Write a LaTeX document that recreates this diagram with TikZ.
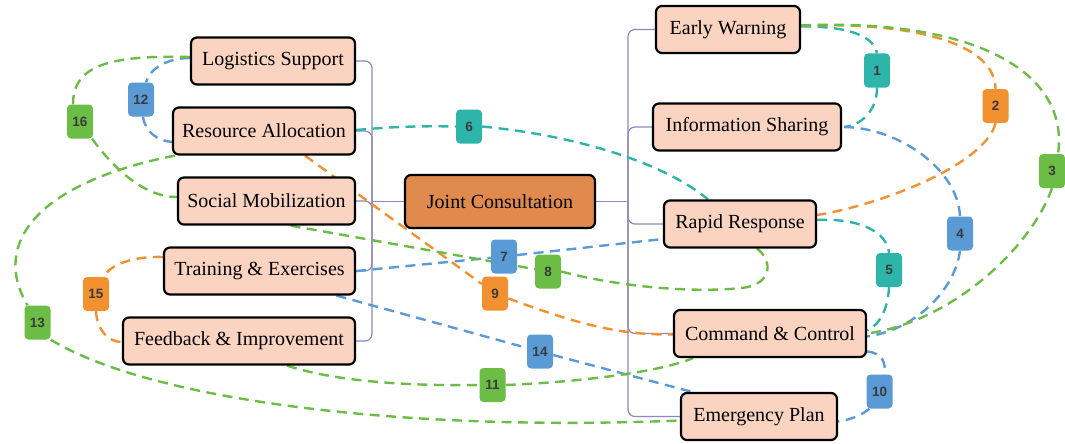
\documentclass[tikz,border=0pt]{standalone}
\usepackage{fontspec}
\setmainfont{Liberation Serif}
\newfontfamily\labfont{Liberation Sans}
\usetikzlibrary{backgrounds}

\definecolor{peach}{HTML}{FAD4C0}
\definecolor{hubfill}{HTML}{E08A4E}
\definecolor{treec}{HTML}{8C87C0}
\definecolor{tealc}{HTML}{2DB5AA}
\definecolor{orangec}{HTML}{F2912F}
\definecolor{greenc}{HTML}{6CBD45}
\definecolor{bluec}{HTML}{5B9BD5}
\definecolor{labtext}{HTML}{3A3A3A}

\tikzset{
  box/.style={draw=black, line width=2.2pt, rounded corners=6pt, fill=peach,
    minimum height=47pt, inner sep=0pt, font=\fontsize{20}{24}\selectfont},
  hub/.style={box, fill=hubfill, minimum height=53pt},
  tree/.style={draw=treec, line width=1.2pt, rounded corners=7pt},
  dl/.style={line width=2.4pt, dash pattern=on 10pt off 6.5pt},
  lab/.style={rounded corners=4pt, minimum width=26pt, minimum height=34pt,
    inner xsep=4pt, inner ysep=0pt, text=labtext,
    font=\labfont\bfseries\fontsize{13.5}{16}\selectfont},
}

\begin{document}
\begin{tikzpicture}[x=1pt, y=-1pt]
\useasboundingbox (0,0) rectangle (1065,444);

% central topic
\node[hub, minimum width=190pt] (jc) at (500,201.5) {Joint Consultation};

% left branch
\node[box, minimum width=164pt] (ls) at (273,61) {Logistics Support};
\node[box, minimum width=182pt] (ra) at (264,131) {Resource Allocation};
\node[box, minimum width=177pt] (sm) at (266.5,201) {Social Mobilization};
\node[box, minimum width=191pt] (te) at (259.5,271) {Training \& Exercises};
\node[box, minimum width=232pt] (fi) at (239,341) {Feedback \& Improvement};

% right branch
\node[box, minimum width=144pt] (ew) at (728,29.5) {Early Warning};
\node[box, minimum width=188pt] (is) at (747,127) {Information Sharing};
\node[box, minimum width=152pt] (rr) at (740,224) {Rapid Response};
\node[box, minimum width=192pt] (cc) at (770,333.5) {Command \& Control};
\node[box, minimum width=156pt] (ep) at (759,416.5) {Emergency Plan};

% relation labels
\node[lab, fill=tealc]   (l1)  at (877,70.5)   {1};
\node[lab, fill=orangec] (l2)  at (995.5,106)  {2};
\node[lab, fill=greenc]  (l3)  at (1052,171)   {3};
\node[lab, fill=bluec]   (l4)  at (960,233.5)  {4};
\node[lab, fill=tealc]   (l5)  at (889,270)    {5};
\node[lab, fill=tealc]   (l6)  at (469,126.5)  {6};
\node[lab, fill=bluec]   (l7)  at (504,256.5)  {7};
\node[lab, fill=greenc]  (l8)  at (548,271.5)  {8};
\node[lab, fill=orangec] (l9)  at (495,293.5)  {9};
\node[lab, fill=bluec]   (l10) at (879.5,391.5) {10};
\node[lab, fill=greenc]  (l11) at (492.5,385)  {11};
\node[lab, fill=bluec]   (l12) at (141,99.5)   {12};
\node[lab, fill=greenc]  (l13) at (37.5,322.5) {13};
\node[lab, fill=bluec]   (l14) at (540,351.5)  {14};
\node[lab, fill=orangec] (l15) at (96,294)     {15};
\node[lab, fill=greenc]  (l16) at (80,121.5)   {16};

\coordinate (lbus) at (372,201.5);
\coordinate (rbus) at (628,201.5);
\coordinate (loop8) at (748,287);

\begin{scope}[on background layer]
% tree connectors: trunk lines to the two buses, then elbows to each branch
\draw[tree] (jc.west) -- (lbus);
\draw[tree] (jc.east) -- (rbus);
\foreach \n in {ls,ra,sm,te,fi}
  \draw[tree] (lbus) |- (\n.east);
\foreach \n in {ew,is,rr,cc,ep}
  \draw[tree] (rbus) |- (\n.west);

% 1
\draw[dl, tealc] ([yshift=3]ew.east) .. controls (845,26) and (874,35) .. (l1.north);
\draw[dl, tealc] (l1.south) .. controls (877,110) and (862,125) .. ([xshift=2]is.east);
% 5
\draw[dl, tealc] ([yshift=4]rr.east) .. controls (860,218) and (887,232) .. (l5.north);
\draw[dl, tealc] (l5.south) .. controls (888,308) and (880,325) .. ([yshift=3]cc.east);
% 6
\draw[dl, tealc] ([yshift=1]ra.east) .. controls (400,126) and (430,126) .. (l6.west);
\draw[dl, tealc] (l6.east) .. controls (570,135) and (660,160) .. ([xshift=-32]rr.north);
% 4
\draw[dl, bluec] ([xshift=2]is.east) .. controls (900,128) and (958,170) .. (l4.north);
\draw[dl, bluec] (l4.south) .. controls (955,290) and (915,330) .. ([yshift=-3]cc.east);
% 7
\draw[dl, bluec] (te.east) -- (l7);
\draw[dl, bluec] (l7) -- ([yshift=-15]rr.west);
% 10
\draw[dl, bluec] ([yshift=-18]cc.east) .. controls (882,353) and (886,362) .. ([xshift=5]l10.north);
\draw[dl, bluec] ([xshift=-10]l10.south) .. controls (862,415) and (850,420) .. ([yshift=-5]ep.east);
% 12
\draw[dl, bluec] ([yshift=3]ls.west) .. controls (168,58) and (150,68) .. ([xshift=5]l12.north);
\draw[dl, bluec] ([xshift=2]l12.south) .. controls (145,132) and (158,141) .. ([yshift=-11]ra.west);
% 14
\draw[dl, bluec] ([xshift=77]te.south) -- (l14);
\draw[dl, bluec] (l14) -- ([xshift=-67]ep.north);
% 2
\draw[dl, orangec] ([yshift=4]ew.east) .. controls (920,22) and (995,45) .. (l2.north);
\draw[dl, orangec] (l2.south) .. controls (985,165) and (880,205) .. ([yshift=9]rr.east);
% 9
\draw[dl, orangec] ([xshift=41]ra.south) -- (l9);
\draw[dl, orangec] (l9) .. controls (580,325) and (620,335) .. ([yshift=-1]cc.west);
% 15
\draw[dl, orangec] ([yshift=14]te.west) .. controls (135,256) and (110,264) .. ([xshift=8]l15.north);
\draw[dl, orangec] (l15.south) .. controls (97,330) and (108,342) .. ([yshift=-1]fi.west);
% 3
\draw[dl, greenc] ([yshift=4]ew.east) .. controls (970,18) and (1070,70) .. ([xshift=6]l3.north);
\draw[dl, greenc] (l3.south) .. controls (1030,250) and (950,322) .. (cc.east);
% 8
\draw[dl, greenc] ([xshift=24]sm.south) -- (l8);
\draw[dl, greenc] (l8.east) .. controls (640,292) and (720,292) .. (loop8)
  .. controls (775,280) and (770,258) .. ([xshift=17]rr.south);
% 11
\draw[dl, greenc] ([xshift=48]fi.south) .. controls (340,383) and (420,386) .. (l11.west);
\draw[dl, greenc] (l11.east) .. controls (580,382) and (660,372) .. ([xshift=-77]cc.south);
% 13
\draw[dl, greenc] ([xshift=-89]ra.south) .. controls (40,182) and (-10,242) .. ([xshift=-10]l13.north);
\draw[dl, greenc] (l13.south east) .. controls (150,400) and (400,432) .. ([yshift=-4]ep.west);
% 16
\draw[dl, greenc] ([yshift=4]ls.west) .. controls (110,55) and (73,65) .. ([xshift=-7]l16.north);
\draw[dl, greenc] ([xshift=12]l16.south) .. controls (115,170) and (145,197) .. ([yshift=4]sm.west);
\end{scope}
\end{tikzpicture}
\end{document}
